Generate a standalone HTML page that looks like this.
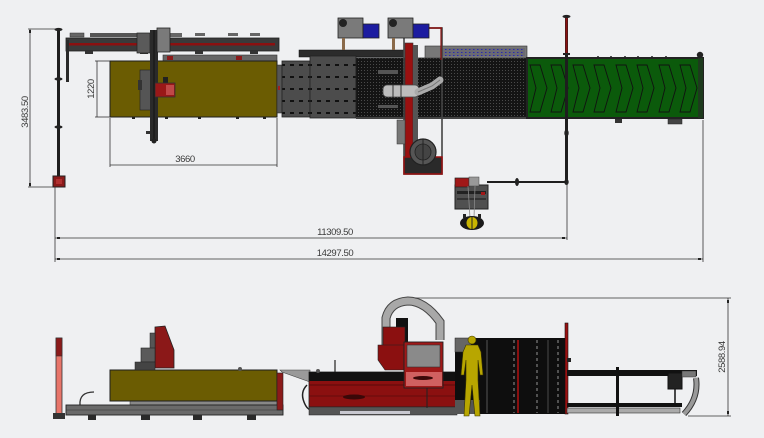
<!DOCTYPE html>
<html><head><meta charset="utf-8"><style>
html,body{margin:0;padding:0;background:#eff0f2;}
svg{display:block;}
text{font-family:"Liberation Sans",sans-serif;font-size:9.5px;fill:#3a3a3a;letter-spacing:-0.4px;}
</style></head><body>
<svg width="764" height="438" viewBox="0 0 764 438" xmlns="http://www.w3.org/2000/svg">
<defs>
<pattern id="mesh" width="3" height="3" patternUnits="userSpaceOnUse"><rect width="3" height="3" fill="#141414"/><rect x="1" y="1" width="1" height="1" fill="#4a4a4a"/></pattern>
<pattern id="blue" width="4" height="3" patternUnits="userSpaceOnUse"><rect width="4" height="3" fill="#6a6a72"/><rect x="1" y="1" width="1.5" height="1" fill="#2a2ab0"/></pattern>
<pattern id="plate" width="9" height="12" patternUnits="userSpaceOnUse"><rect width="9" height="12" fill="#4c4c4c"/><rect x="2" y="4" width="4" height="2" fill="#111"/></pattern>
</defs>
<rect width="764" height="438" fill="#eff0f2"/>

<!-- ===== TOP VIEW ===== -->
<!-- dim 3483.50 -->
<g stroke="#333" stroke-width="0.8">
<line x1="30" y1="29" x2="30" y2="187"/>
<line x1="28" y1="29" x2="58" y2="29"/>
<line x1="28" y1="187" x2="58" y2="187"/>
</g>
<rect x="29" y="30" width="2" height="3" fill="#222"/><rect x="29" y="183" width="2" height="3" fill="#222"/>
<text transform="translate(28,112) rotate(-90)" text-anchor="middle">3483.50</text>

<!-- post -->
<rect x="57" y="29" width="3" height="150" fill="#1e1e1e"/>
<ellipse cx="58.5" cy="29.5" rx="4" ry="1.6" fill="#222"/>
<ellipse cx="58.5" cy="79" rx="4" ry="1.6" fill="#222"/>
<ellipse cx="58.5" cy="127" rx="4" ry="1.6" fill="#222"/>
<rect x="53" y="176" width="12" height="11" fill="#8b1a1a" stroke="#222" stroke-width="1"/>
<rect x="56" y="179" width="6" height="5" fill="#b03030"/>

<!-- gantry rail -->
<rect x="70" y="33" width="14" height="4" fill="#666" stroke="#333" stroke-width="0.5"/>
<rect x="90" y="33" width="50" height="4" fill="#555"/>
<rect x="170" y="33" width="12" height="4" fill="#666"/>
<rect x="195" y="33" width="10" height="3" fill="#666"/>
<rect x="228" y="33" width="10" height="3" fill="#666"/>
<rect x="250" y="33" width="10" height="3" fill="#666"/>
<rect x="66" y="38" width="213" height="13" fill="#3a3a3a" stroke="#222" stroke-width="0.8"/>
<rect x="69" y="43" width="206" height="2.5" fill="#8b1010"/>
<rect x="66" y="40" width="3" height="42" fill="#2a2a2a"/>
<rect x="85" y="51" width="8" height="3" fill="#333"/><rect x="140" y="51" width="8" height="3" fill="#333"/><rect x="195" y="51" width="8" height="3" fill="#333"/><rect x="250" y="51" width="8" height="3" fill="#333"/>

<!-- strip above table -->
<rect x="163" y="55" width="114" height="6" fill="#666" stroke="#333" stroke-width="0.6"/>
<rect x="167" y="56" width="6" height="4" fill="#8b1a1a"/><rect x="236" y="56" width="6" height="4" fill="#8b1a1a"/>

<!-- table -->
<rect x="110" y="61" width="167" height="56" fill="#6b5c02" stroke="#1e1e1e" stroke-width="1"/>
<g fill="#222"><rect x="132" y="117" width="3" height="2"/><rect x="165" y="117" width="3" height="2"/><rect x="198" y="117" width="3" height="2"/><rect x="236" y="117" width="3" height="2"/><rect x="263" y="117" width="3" height="2"/></g>

<!-- gantry beam -->
<rect x="137" y="33" width="13" height="20" fill="#5a5a5a" stroke="#222" stroke-width="0.7"/>
<rect x="140" y="70" width="11" height="40" fill="#555" stroke="#222" stroke-width="0.6"/>
<rect x="138" y="80" width="4" height="10" fill="#333"/>
<rect x="150" y="30" width="8" height="111" fill="#2a2a2a"/>
<line x1="154" y1="30" x2="154" y2="140" stroke="#111" stroke-width="1"/>
<rect x="157" y="28" width="13" height="24" fill="#7a7a7a" stroke="#222" stroke-width="0.8"/>
<rect x="163" y="77" width="5" height="6" fill="#222"/>
<rect x="155" y="83" width="20" height="14" fill="#9a1818" stroke="#333" stroke-width="0.8"/>
<rect x="166" y="85" width="8" height="10" fill="#c04848"/>
<circle cx="154" cy="141" r="2.5" fill="#222"/>
<rect x="146" y="131" width="4" height="3" fill="#333"/>

<!-- dim 1220 -->
<g stroke="#333" stroke-width="0.8">
<line x1="97" y1="61" x2="97" y2="117"/>
<line x1="95" y1="61" x2="110" y2="61"/>
<line x1="95" y1="117" x2="110" y2="117"/>
</g>
<text transform="translate(94,89) rotate(-90)" text-anchor="middle">1220</text>

<!-- dim 3660 -->
<g stroke="#333" stroke-width="0.8">
<line x1="110" y1="165" x2="277" y2="165"/>
<line x1="110" y1="118" x2="110" y2="167"/>
<line x1="277" y1="118" x2="277" y2="167"/>
</g>
<text x="185" y="162" text-anchor="middle">3660</text>

<!-- plates -->
<rect x="277" y="65" width="5" height="48" fill="#555" stroke="#222" stroke-width="0.5"/>
<rect x="278" y="86" width="2" height="4" fill="#a02020"/>
<rect x="282" y="61" width="28" height="56" fill="url(#plate)" stroke="#222" stroke-width="0.8"/>
<rect x="299" y="50" width="105" height="7" fill="#2b2b2b" stroke="#111" stroke-width="0.5"/>
<rect x="310" y="56" width="46" height="62" fill="url(#plate)" stroke="#222" stroke-width="0.8"/>
<rect x="356" y="58" width="171" height="59" fill="url(#mesh)" stroke="#222" stroke-width="0.8"/>
<rect x="425" y="46" width="102" height="12" fill="#777" stroke="#333" stroke-width="0.6"/>
<rect x="440" y="48" width="85" height="8" fill="url(#blue)"/>
<rect x="356" y="117" width="171" height="2" fill="#444"/>
<rect x="378" y="70" width="20" height="4" fill="#555"/><rect x="378" y="105" width="20" height="3" fill="#555"/>

<!-- gantry column / frame -->
<rect x="404" y="28" width="38" height="146" fill="none" stroke="#444" stroke-width="1.6"/>
<line x1="404" y1="28" x2="442" y2="28" stroke="#8b1010" stroke-width="1.5"/>
<line x1="441" y1="28" x2="441" y2="60" stroke="#8b1010" stroke-width="1.2"/>
<rect x="405" y="43" width="8" height="130" fill="#9a1010" stroke="#333" stroke-width="0.6"/>
<rect x="413" y="45" width="5" height="128" fill="#555"/>
<rect x="397" y="120" width="8" height="24" fill="#777" stroke="#333" stroke-width="0.5"/>
<rect x="404" y="157" width="38" height="17" fill="#2a2a2a" stroke="#9a1010" stroke-width="1.5"/>
<circle cx="423" cy="152" r="13" fill="#555" stroke="#222" stroke-width="1.2"/>
<circle cx="423" cy="152" r="8" fill="#444" stroke="#222" stroke-width="0.8"/>
<line x1="423" y1="139" x2="423" y2="165" stroke="#222"/>
<rect x="383" y="85" width="36" height="12" rx="4" fill="#bdbdbd" stroke="#444" stroke-width="0.8"/>
<line x1="393" y1="85" x2="393" y2="97" stroke="#333"/><line x1="401" y1="85" x2="401" y2="97" stroke="#333"/>
<path d="M418 92 L432 86 L440 80" stroke="#aaa" stroke-width="7" fill="none" stroke-linecap="round"/>
<path d="M418 92 L432 86 L440 80" stroke="#777" stroke-width="1" fill="none"/>

<!-- motors -->
<rect x="338" y="18" width="25" height="20" fill="#7a7a7a" stroke="#222" stroke-width="0.8"/>
<circle cx="343" cy="23" r="4" fill="#222"/>
<rect x="363" y="24" width="16" height="14" fill="#1c1ca0" stroke="#222" stroke-width="0.8"/>
<rect x="342" y="38" width="3" height="12" fill="#8a6a4a"/>
<rect x="388" y="18" width="25" height="20" fill="#7a7a7a" stroke="#222" stroke-width="0.8"/>
<circle cx="393" cy="23" r="4" fill="#222"/>
<rect x="413" y="24" width="16" height="14" fill="#1c1ca0" stroke="#222" stroke-width="0.8"/>
<rect x="392" y="38" width="3" height="12" fill="#8a6a4a"/>

<!-- green conveyor -->
<rect x="527" y="58" width="176" height="60" fill="#0b5a0b" stroke="#222" stroke-width="2"/>
<rect x="698" y="58" width="5" height="60" fill="#1e3a1e"/>
<g fill="none" stroke="#111" stroke-width="0.9">
<path d="M530 65 L540 65 L547 88 L540 112 L530 112 L536 88 Z"/>
<path d="M551 65 L561 65 L568 88 L561 112 L551 112 L557 88 Z"/>
<path d="M573 65 L583 65 L590 88 L583 112 L573 112 L579 88 Z"/>
<path d="M594 65 L604 65 L611 88 L604 112 L594 112 L600 88 Z"/>
<path d="M616 65 L626 65 L633 88 L626 112 L616 112 L622 88 Z"/>
<path d="M637 65 L647 65 L654 88 L647 112 L637 112 L643 88 Z"/>
<path d="M659 65 L669 65 L676 88 L669 112 L659 112 L665 88 Z"/>
<path d="M680 65 L690 65 L697 88 L690 112 L680 112 L686 88 Z"/>
</g>
<g fill="#222"><circle cx="598" cy="57" r="1"/><circle cx="611" cy="57" r="1"/><circle cx="625" cy="57" r="1"/><circle cx="638" cy="57" r="1"/><circle cx="652" cy="57" r="1"/><circle cx="666" cy="57" r="1"/></g>
<circle cx="700" cy="55" r="3.2" fill="#222"/>
<rect x="615" y="119" width="7" height="4" fill="#333"/><rect x="668" y="119" width="14" height="5" fill="#444" stroke="#222" stroke-width="0.5"/>

<!-- right post -->
<rect x="565" y="17" width="3" height="166" fill="#1e1e1e"/>
<rect x="565.5" y="18" width="2" height="35" fill="#8b1010"/>
<ellipse cx="566.5" cy="16.5" rx="4" ry="1.6" fill="#222"/>
<rect x="563" y="53" width="7" height="2" fill="#222"/>
<ellipse cx="566.5" cy="133" rx="2.2" ry="3.5" fill="#222"/>
<ellipse cx="566.5" cy="182" rx="2.2" ry="3" fill="#222"/>
<line x1="487" y1="182" x2="566" y2="182" stroke="#1e1e1e" stroke-width="2"/>
<ellipse cx="517" cy="182" rx="2" ry="4" fill="#222"/>

<!-- bottom device -->
<rect x="455" y="185" width="33" height="24" fill="#505050" stroke="#222" stroke-width="1"/>
<rect x="457" y="191" width="29" height="3" fill="#222"/><rect x="457" y="198" width="29" height="2" fill="#333"/>
<rect x="455" y="178" width="14" height="9" fill="#a01818" stroke="#222" stroke-width="0.7"/>
<rect x="469" y="177" width="10" height="9" fill="#999" stroke="#444" stroke-width="0.5"/>
<rect x="481" y="192" width="4" height="3" fill="#a01818"/>
<line x1="468" y1="186" x2="470" y2="218" stroke="#888" stroke-width="0.8"/>
<line x1="475" y1="186" x2="474" y2="218" stroke="#888" stroke-width="0.8"/>
<ellipse cx="472" cy="223" rx="12" ry="7" fill="#1a1a1a"/>
<ellipse cx="472" cy="223" rx="5.5" ry="6" fill="#c8b400"/>
<line x1="472" y1="217" x2="472" y2="229" stroke="#222"/>
<rect x="463" y="214" width="3" height="4" fill="#222"/><rect x="478" y="214" width="3" height="4" fill="#222"/>

<!-- dims 11309.50 / 14297.50 -->
<g stroke="#333" stroke-width="0.8">
<line x1="55" y1="187" x2="55" y2="262"/>
<line x1="567" y1="183" x2="567" y2="240"/>
<line x1="703" y1="120" x2="703" y2="262"/>
<line x1="55" y1="238" x2="567" y2="238"/>
<line x1="55" y1="259" x2="703" y2="259"/>
</g>
<g fill="#222"><rect x="57" y="237" width="3" height="2"/><rect x="562" y="237" width="3" height="2"/><rect x="57" y="258" width="3" height="2"/><rect x="698" y="258" width="3" height="2"/></g>
<text x="335" y="235" text-anchor="middle">11309.50</text>
<text x="335" y="256" text-anchor="middle">14297.50</text>

<!-- ===== SIDE VIEW ===== -->
<!-- pink post -->
<rect x="56" y="338" width="6" height="77" fill="#e8756a" stroke="#333" stroke-width="0.8"/>
<rect x="56" y="338" width="6" height="18" fill="#8b1a1a" stroke="#333" stroke-width="0.6"/>
<rect x="53" y="413" width="12" height="6" fill="#333"/>

<!-- base rail -->
<path d="M80 405 Q79 392 94 392" stroke="#333" stroke-width="1.3" fill="none"/>
<rect x="130" y="401" width="147" height="4" fill="#888" stroke="#333" stroke-width="0.5"/>
<rect x="66" y="405" width="217" height="10" fill="#6a6a6a" stroke="#222" stroke-width="0.9"/>
<line x1="66" y1="410" x2="283" y2="410" stroke="#333" stroke-width="0.6"/>
<g fill="#2a2a2a"><rect x="88" y="415" width="8" height="5"/><rect x="141" y="415" width="9" height="5"/><rect x="193" y="415" width="9" height="5"/><rect x="247" y="415" width="9" height="5"/></g>

<!-- table -->
<rect x="110" y="370" width="167" height="31" fill="#6b5c02" stroke="#1e1e1e" stroke-width="1"/>
<rect x="277" y="373" width="6" height="37" fill="#8b1a1a" stroke="#222" stroke-width="0.6"/>
<circle cx="240" cy="369" r="2" fill="#555"/>

<!-- gantry side -->
<path d="M155 327 L165 326 L174 350 L174 368 L155 368 Z" fill="#8b1818" stroke="#222" stroke-width="0.8"/>
<rect x="150" y="333" width="5" height="35" fill="#555" stroke="#222" stroke-width="0.5"/>
<rect x="141" y="348" width="14" height="14" fill="#5a5a5a" stroke="#222" stroke-width="0.6"/>
<rect x="135" y="362" width="20" height="8" fill="#444" stroke="#222" stroke-width="0.5"/>

<!-- chute -->
<path d="M280 370 L310 370 L310 382 L282 372 Z" fill="#9a9a9a" stroke="#444" stroke-width="0.6"/>

<!-- machine body -->
<path d="M307 385 Q300 392 304 402 Q307 410 312 410" stroke="#222" stroke-width="1.5" fill="none"/>
<rect x="309" y="372" width="148" height="35" fill="#8b1010" stroke="#222" stroke-width="0.8"/>
<rect x="309" y="372" width="148" height="9" fill="#111"/>
<line x1="309" y1="385" x2="457" y2="385" stroke="#5a0a0a" stroke-width="1"/>
<line x1="309" y1="396" x2="457" y2="396" stroke="#5a0a0a" stroke-width="0.8"/>
<ellipse cx="354" cy="397" rx="11" ry="2.5" fill="#3a0808"/>
<rect x="309" y="407" width="148" height="8" fill="#555" stroke="#222" stroke-width="0.5"/>
<rect x="340" y="411" width="70" height="3" fill="#c8c8d0"/>
<line x1="427" y1="383" x2="427" y2="408" stroke="#222"/>
<line x1="335" y1="360" x2="335" y2="372" stroke="#222" stroke-width="1.2"/>
<circle cx="318" cy="371" r="2" fill="#555"/>

<!-- robot head -->
<path d="M386 345 L386 318 Q390 302 408 301 Q425 301 440 322 L440 340" stroke="#444" stroke-width="9" fill="none"/>
<path d="M386 345 L386 318 Q390 302 408 301 Q425 301 440 322 L440 340" stroke="#a8a8a8" stroke-width="7" fill="none"/>
<rect x="396" y="318" width="12" height="26" fill="#111"/>
<rect x="383" y="327" width="22" height="20" fill="#8b1010" stroke="#222" stroke-width="0.6"/>
<path d="M378 345 L404 345 L404 370 L385 370 L378 360 Z" fill="#8b1010" stroke="#222" stroke-width="0.6"/>
<rect x="404" y="342" width="39" height="46" fill="#a01818" stroke="#222" stroke-width="0.9"/>
<rect x="407" y="345" width="33" height="22" fill="#8a8a8a" stroke="#333" stroke-width="0.6"/>
<rect x="406" y="372" width="36" height="14" fill="#d06060"/>
<ellipse cx="423" cy="378" rx="10" ry="2" fill="#3a0808"/>

<!-- black cabinet -->
<rect x="455" y="338" width="112" height="76" fill="#0e0e0e"/>
<rect x="455" y="338" width="16" height="14" fill="#666" stroke="#222" stroke-width="0.5"/>
<rect x="455" y="400" width="25" height="14" fill="#555"/>
<line x1="487" y1="340" x2="487" y2="413" stroke="#555" stroke-width="1"/>
<line x1="518" y1="340" x2="518" y2="413" stroke="#b01010" stroke-width="1.5"/>
<line x1="514" y1="340" x2="514" y2="413" stroke="#ccc" stroke-width="0.7" stroke-dasharray="3,3"/>
<line x1="537" y1="340" x2="537" y2="413" stroke="#ccc" stroke-width="0.7" stroke-dasharray="3,3"/>
<line x1="548" y1="340" x2="548" y2="413" stroke="#888" stroke-width="0.5"/>
<line x1="558" y1="340" x2="558" y2="413" stroke="#ccc" stroke-width="0.7" stroke-dasharray="3,3"/>
<rect x="565" y="323" width="3" height="91" fill="#9a1010" stroke="#111" stroke-width="0.6"/>
<rect x="567" y="358" width="4" height="4" fill="#222"/>

<!-- human -->
<g fill="#b8a600" stroke="#3a3400" stroke-width="0.6">
<circle cx="472" cy="340" r="4"/>
<path d="M466 345 L478 345 L481 352 L483 375 L480 375 L478 360 L478 380 L480 416 L475 416 L472 385 L469 416 L464 416 L466 380 L466 360 L464 375 L461 375 L463 352 Z"/>
</g>

<!-- conveyor side -->
<rect x="567" y="370" width="130" height="6" fill="#111"/>
<rect x="567" y="403" width="115" height="4" fill="#111"/>
<rect x="567" y="408" width="113" height="5" fill="#aaa" stroke="#333" stroke-width="0.6"/>
<rect x="616" y="367" width="3" height="49" fill="#111"/>
<rect x="668" y="373" width="14" height="16" fill="#222" stroke="#111"/>
<rect x="682" y="371" width="14" height="6" fill="#777" stroke="#333" stroke-width="0.5"/>
<line x1="675" y1="389" x2="675" y2="405" stroke="#111" stroke-width="1.5"/>
<path d="M696 378 Q699 398 684 414" stroke="#333" stroke-width="6" fill="none"/>
<path d="M696 378 Q699 398 684 414" stroke="#999" stroke-width="4" fill="none"/>

<!-- dim 2588.94 -->
<g stroke="#333" stroke-width="0.8">
<line x1="415" y1="298" x2="731" y2="298"/>
<line x1="688" y1="416" x2="731" y2="416"/>
<line x1="728" y1="298" x2="728" y2="416"/>
</g>
<rect x="727" y="300" width="2" height="3" fill="#222"/><rect x="727" y="411" width="2" height="3" fill="#222"/>
<text transform="translate(725,357) rotate(-90)" text-anchor="middle">2588.94</text>
</svg>
</body></html>
